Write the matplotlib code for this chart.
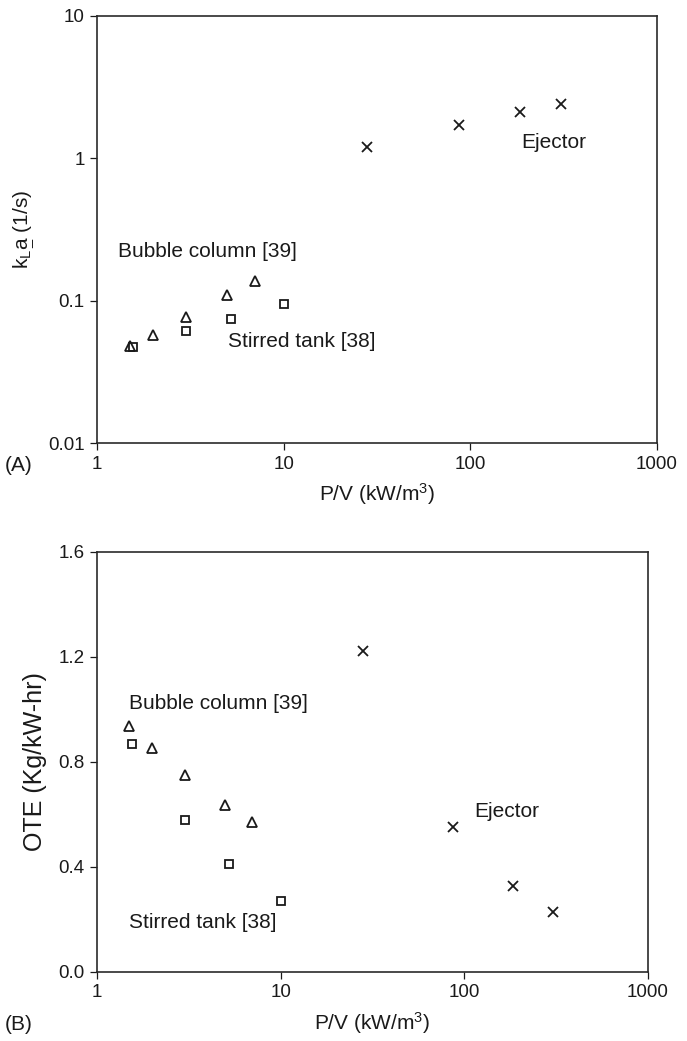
import matplotlib
matplotlib.use('Agg')
import matplotlib.pyplot as plt
from matplotlib.ticker import FixedLocator, FixedFormatter, NullLocator

plt.rcParams['font.family'] = ['Liberation Sans', 'DejaVu Sans']
plt.rcParams['mathtext.fontset'] = 'custom'
plt.rcParams['mathtext.rm'] = 'Liberation Sans'
plt.rcParams['mathtext.it'] = 'Liberation Sans'

# power input per volume (kW/m3)
pv_bubble = [1.5, 2.0, 3.0, 5.0, 7.0]
pv_stirred = [1.55, 3.0, 5.2, 10.0]
pv_ejector = [28, 87, 185, 305]

# kLa (1/s)
kla_bubble = [0.048, 0.057, 0.077, 0.110, 0.138]
kla_stirred = [0.047, 0.061, 0.074, 0.095]
kla_ejector = [1.2, 1.7, 2.1, 2.4]

# oxygen transfer efficiency (Kg/kW-hr)
ote_bubble = [0.937, 0.853, 0.75, 0.636, 0.571]
ote_stirred = [0.869, 0.579, 0.411, 0.27]
ote_ejector = [1.223, 0.552, 0.328, 0.229]

ink = '#1a1a1a'
fig = plt.figure(figsize=(6.87, 10.41), dpi=100)

axA = fig.add_axes([0.1412, 0.5744, 0.8151, 0.4107])
axB = fig.add_axes([0.1412, 0.0663, 0.802, 0.4035])


def markers(ax, yb, ys, ye):
    ax.plot(pv_bubble, yb, linestyle='none', marker='^', ms=6.5, mfc='none', mec=ink, mew=1.3)
    ax.plot(pv_stirred, ys, linestyle='none', marker='s', ms=5.8, mfc='none', mec=ink, mew=1.3)
    ax.plot(pv_ejector, ye, linestyle='none', marker='x', ms=7, mec=ink, mew=1.3)


def style(ax):
    ax.set_xscale('log')
    ax.set_xlim(1, 1000)
    ax.xaxis.set_major_locator(FixedLocator([1, 10, 100, 1000]))
    ax.xaxis.set_major_formatter(FixedFormatter(['1', '10', '100', '1000']))
    ax.xaxis.set_minor_locator(NullLocator())
    for s in ax.spines.values():
        s.set_linewidth(1.2)
        s.set_color('#2a2a2a')
    ax.tick_params(direction='out', length=5, width=0.9, color=ink,
                   labelsize=13.5, labelcolor=ink, pad=4,
                   top=False, right=False)
    ax.set_xlabel('P/V (kW/m$\\mathregular{^3}$)', fontsize=15, color=ink, labelpad=6)


# panel A: kLa vs P/V
markers(axA, kla_bubble, kla_stirred, kla_ejector)
style(axA)
axA.set_yscale('log')
axA.set_ylim(0.01, 10)
axA.yaxis.set_major_locator(FixedLocator([0.01, 0.1, 1, 10]))
axA.yaxis.set_major_formatter(FixedFormatter(['0.01', '0.1', '1', '10']))
axA.yaxis.set_minor_locator(NullLocator())
axA.set_ylabel(r'$\mathregular{k_L\underset{\_}{a}\ (1/s)}$', fontsize=15, color=ink, labelpad=8)
axA.text(1.295, 0.22, 'Bubble column [39]', fontsize=15, color=ink, va='center')
axA.text(5.02, 0.0517, 'Stirred tank [38]', fontsize=15, color=ink, va='center')
axA.text(187, 1.29, 'Ejector', fontsize=15, color=ink, va='center')
fig.text(0.007, 1 - 465 / 1041, '(A)', fontsize=15, color=ink, va='center')

# panel B: OTE vs P/V
markers(axB, ote_bubble, ote_stirred, ote_ejector)
style(axB)
axB.set_ylim(0, 1.6)
axB.set_yticks([0.0, 0.4, 0.8, 1.2, 1.6])
axB.set_yticklabels(['0.0', '0.4', '0.8', '1.2', '1.6'])
axB.set_ylabel('OTE (Kg/kW-hr)', fontsize=18, color=ink, labelpad=8)
axB.text(1.49, 1.021, 'Bubble column [39]', fontsize=15, color=ink, va='center')
axB.text(1.49, 0.19, 'Stirred tank [38]', fontsize=15, color=ink, va='center')
axB.text(113, 0.61, 'Ejector', fontsize=15, color=ink, va='center')
fig.text(0.007, 1 - 1025 / 1041, '(B)', fontsize=15, color=ink, va='center')

fig.savefig('out.png', dpi=100)
